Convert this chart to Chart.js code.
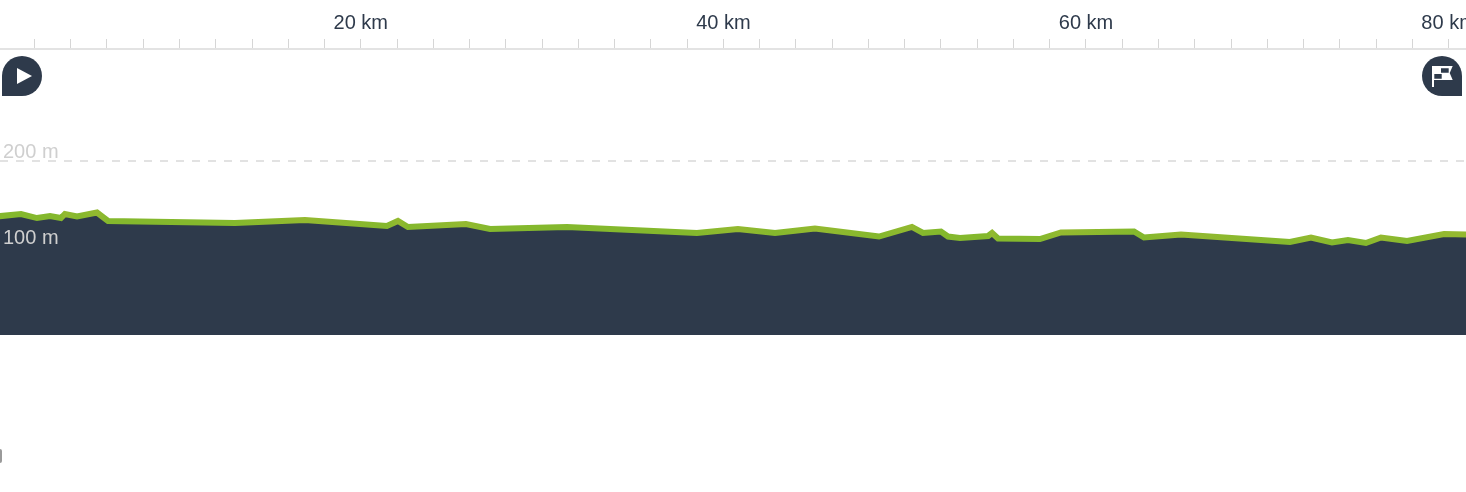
<!DOCTYPE html>
<html>
<head>
<meta charset="utf-8">
<style>
  html, body { margin: 0; padding: 0; background: #fff; overflow: hidden; }
  #wrap { position: relative; width: 1466px; height: 492px; }
  #chartBox { position: absolute; left: 0; top: 0; width: 1466px; height: 335px; }
  .pin { position: absolute; top: 56px; width: 40px; height: 40px; }
  #stray { position: absolute; left: 0; top: 449px; width: 2px; height: 14px; background: #9a9a9a; border-radius: 0 2px 2px 0; }
</style>
</head>
<body>
<div id="wrap">
  <div id="chartBox"><canvas id="profileChart"></canvas></div>

  <svg class="pin" style="left:2px" viewBox="0 0 40 40">
    <path d="M0 40V20A20 20 0 1 1 20 40Z" fill="#2e3a4b"/>
    <path d="M15 12V28L30 20Z" fill="#fff"/>
  </svg>
  <svg class="pin" style="left:1422px" viewBox="0 0 40 40">
    <path d="M40 40V20A20 20 0 1 0 20 40Z" fill="#2e3a4b"/>
    <path d="M10 10H30.700L27.700 17L30.700 24H12V31H10Z" fill="#fff"/>
    <path d="M19 12.300H26.700V16.700H19ZM12.300 18H19.700V22.700H12.300Z" fill="#2e3a4b"/>
  </svg>
  <div id="stray"></div>
</div>

<script src="https://cdn.jsdelivr.net/npm/chart.js@4"></script>
<script>
// Route profile
const distanceKm = [0, 1.26, 2.14, 2.86, 3.46, 3.68, 4.35, 5.45, 6.06, 13.06, 16.92, 21.44, 22.05, 22.6, 25.8,
    27.13, 31.37, 38.54, 40.8, 42.85, 45.05, 48.58, 50.4, 51.01, 52.0, 52.39, 53.05, 54.6, 54.82, 55.15,
    57.46, 58.62, 62.65, 63.2, 65.24, 71.25, 72.41, 73.57, 74.45, 75.44, 76.27, 77.71, 79.75, 81.07];
const elevationM = [135.1, 137.8, 133.1, 135.5, 133.1, 137.8, 134.9, 139.5, 129.7, 127.3, 130.8, 123.8, 129.7, 122.7, 126.2,
    120.3, 122.7, 115.7, 120.3, 115.7, 120.9, 111.6, 122.7, 115.7, 117.4, 111.6, 109.9, 112.2, 115.7, 109.3,
    108.7, 116.3, 117.4, 110.5, 114.0, 105.2, 110.5, 104.7, 107.6, 104.1, 110.5, 106.4, 114.5, 114.0];
const kmTicks = [2, 4, 6, 8, 10, 12, 14, 16, 18, 20, 22, 24, 26, 28, 30, 32, 34, 36, 38, 40,
    42, 44, 46, 48, 50, 52, 54, 56, 58, 60, 62, 64, 66, 68, 70, 72, 74, 76, 78, 80];
const kmLabels = [20, 40, 60, 80];
const elevationTicks = [100, 200];
const dashedLevels = [200];

const ink = '#2e3a4b';
const green = '#84b82d';
const greenUphill = '#94b930';
const points = distanceKm.map((km, i) => ({ x: km, y: elevationM[i] }));

// Colour runs along the route: climbs go a bit yellower
function gradeGradient(context) {
    const { ctx, chartArea, scales } = context.chart;
    if (!chartArea) return green;
    const g = ctx.createLinearGradient(chartArea.left, 0, chartArea.right, 0);
    distanceKm.forEach((km, i) => {
        const pos = (scales.x.getPixelForValue(km) - chartArea.left) / chartArea.width;
        if (pos < 0 || pos > 1) return;
        const climb = i > 0 && elevationM[i] - elevationM[i - 1] > 3;
        g.addColorStop(pos, climb ? greenUphill : green);
    });
    return g;
}

const ctx = document.getElementById('profileChart').getContext('2d');
new Chart(ctx, {
    type: 'line',
    data: {
        datasets: [
            {
                // green outline, on top
                data: points,
                borderColor: gradeGradient,
                borderWidth: 6,
                borderJoinStyle: 'miter',
                fill: false,
                pointRadius: 0,
                tension: 0,
                order: 1
            },
            {
                // dark area below the profile
                data: points,
                borderWidth: 0,
                backgroundColor: ink,
                fill: 'start',
                pointRadius: 0,
                tension: 0,
                order: 2
            }
        ]
    },
    options: {
        responsive: true,
        maintainAspectRatio: false,
        animation: false,
        layout: { padding: 0, autoPadding: false },
        plugins: { legend: { display: false }, tooltip: { enabled: false } },
        scales: {
            x: {
                type: 'linear',
                position: 'top',
                min: 0.1,
                max: 80.96,
                afterFit: scale => {
                    scale.height = 49;
                    scale.paddingLeft = 0;
                    scale.paddingRight = 0;
                },
                afterBuildTicks: scale => { scale.ticks = kmTicks.map(v => ({ value: v })); },
                border: { color: '#e3e3e3', width: 2 },
                grid: { drawOnChartArea: false, tickLength: 10, tickColor: '#d6d6d6', tickWidth: 1 },
                ticks: {
                    autoSkip: false,
                    maxRotation: 0,
                    padding: 4,
                    color: ink,
                    font: { family: "'Liberation Sans', Arial, sans-serif", size: 20 },
                    callback: v => (kmLabels.includes(v) ? v + ' km' : '')
                }
            },
            y: {
                min: -2.9,
                max: 329.65,
                afterFit: scale => {
                    scale.width = 0;
                    scale.paddingTop = 0;
                    scale.paddingBottom = 0;
                },
                afterBuildTicks: scale => { scale.ticks = elevationTicks.map(v => ({ value: v })); },
                border: { display: false, dash: [8, 8] },
                grid: {
                    drawTicks: false,
                    lineWidth: 2,
                    color: c => (dashedLevels.includes(c.tick.value) ? '#e2e2e2' : 'rgba(0,0,0,0)')
                },
                ticks: {
                    mirror: true,
                    padding: 3,
                    labelOffset: -8.5,
                    z: 1,
                    color: '#cfcfcf',
                    font: { family: "'Liberation Sans', Arial, sans-serif", size: 20 },
                    callback: v => v + ' m'
                }
            }
        }
    }
});
</script>
</body>
</html>
